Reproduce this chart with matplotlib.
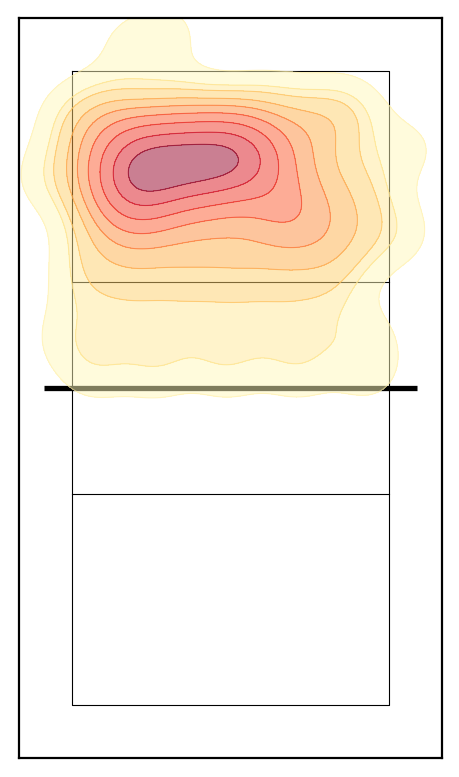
import numpy as np
import matplotlib
matplotlib.use("Agg")
import matplotlib.pyplot as plt

# attack landing points (metres; x across court 0..9, y from far baseline 0 .. net 9)
pts_x = [1.6, 2.8,
         0.8, 3.0, 5.5, 7.6,
         -0.1, 1.6, 4.3, 6.6, 8.0,
         0.6, 1.5, 2.3, 3.0, 3.7, 4.4, 5.1, 5.9, 6.9,
         1.6, 2.1, 2.6, 3.1, 3.6, 4.1, 4.6, 5.0,
         0.4, 1.4, 1.9, 2.4, 2.9, 3.4, 3.9, 4.4, 4.9, 5.5, 6.6, 8.0,
         1.5, 2.0, 2.5, 3.0, 3.5, 4.0, 4.5, 5.2,
         0.3, 1.3, 1.9, 2.6, 3.4, 4.2, 5.5, 7.0, 8.4,
         1.3, 5.3,
         1.5, 2.1, 5.8, 6.2,
         0.6, 1.9, 3.2, 4.5, 6.0, 6.6, 7.6,
         1.2, 2.6, 4.0, 5.3, 6.9, 8.3,
         0.3, 1.8, 3.3, 4.7, 6.1, 7.5,
         0.4, 1.8, 3.2, 4.6, 6.0, 7.4,
         -0.2, 1.2, 2.6, 4.0, 5.4, 6.8, 8.4,
         0.6, 2.4, 4.4, 6.4, 8.4,
         -0.8, 9.6, 9.4]
pts_y = [-0.7, -1.1,
         1.0, 0.9, 0.9, 1.1,
         1.3, 1.3, 1.3, 1.3, 1.3,
         1.85, 1.85, 1.85, 1.85, 1.85, 1.85, 1.85, 1.85, 1.85,
         2.3, 2.25, 2.2, 2.2, 2.2, 2.2, 2.2, 2.2,
         2.5, 2.7, 2.7, 2.65, 2.65, 2.6, 2.6, 2.6, 2.6, 2.65, 2.6, 2.8,
         3.1, 3.1, 3.05, 3.05, 3.05, 3.05, 3.05, 3.0,
         3.3, 3.45, 3.45, 3.4, 3.4, 3.35, 3.3, 3.3, 3.6,
         2.9, 2.4,
         3.8, 3.8, 3.8, 3.8,
         4.2, 4.2, 4.2, 4.2, 4.2, 4.2, 4.2,
         4.8, 4.8, 4.8, 4.8, 4.8, 4.8,
         5.4, 5.4, 5.4, 5.4, 5.4, 5.4,
         6.3, 6.3, 6.3, 6.3, 6.3, 6.3,
         7.6, 7.6, 7.6, 7.6, 7.6, 7.6, 7.6,
         8.6, 8.6, 8.6, 8.6, 8.6,
         3.0, 2.2, 4.6]

n_levels = 10
thresh = 0.05
bw = 0.8
band_pos = [0.05, 0.15, 0.28, 0.38, 0.5, 0.6, 0.68, 0.78, 0.95]

fig = plt.figure(figsize=(4.6, 7.77), dpi=100)
ax = fig.add_axes([19/460, 1 - 758/777, 423/460, 740/777])
ax.set_xlim(-1.5, 10.5)
ax.set_ylim(19.5, -1.5)
ax.set_xticks([])
ax.set_yticks([])
for s in ax.spines.values():
    s.set_linewidth(1.6)
    s.set_color("black")

# court
court_kw = dict(color="black", lw=0.8, zorder=1)
ax.plot([0, 9, 9, 0, 0], [0, 0, 18, 18, 0], **court_kw)
ax.plot([0, 9], [6, 6], **court_kw)
ax.plot([0, 9], [12, 12], **court_kw)
ax.plot([-0.8, 9.8], [9, 9], color="black", lw=3.8, zorder=1, solid_capstyle="butt")

# KDE
px = np.asarray(pts_x, float)
py = np.asarray(pts_y, float)
gx = np.linspace(-6, 15, 300)
gy = np.linspace(-6, 25, 420)
X, Y = np.meshgrid(gx, gy)
Z = np.zeros_like(X)
for xi, yi in zip(px, py):
    Z += np.exp(-((X - xi) ** 2 + (Y - yi) ** 2) / (2 * bw ** 2))
Z /= Z.sum()
vals = np.sort(Z.ravel())[::-1]
cum = np.cumsum(vals) / vals.sum()
q = np.linspace(thresh, 1, n_levels)
idx = np.searchsorted(cum, 1 - q)
levels = np.take(vals, idx, mode="clip")

cmap = plt.get_cmap("YlOrRd")
fill_cols = [cmap(p) for p in band_pos]
line_cols = [cmap(min(p + 0.08, 1.0)) for p in band_pos]
ax.contourf(X, Y, Z, levels=levels, colors=fill_cols, alpha=0.5, zorder=2)
ax.contour(X, Y, Z, levels=levels[:-1], colors=line_cols, alpha=0.5, linewidths=0.8, zorder=2)

fig.savefig("out.png", dpi=100)
